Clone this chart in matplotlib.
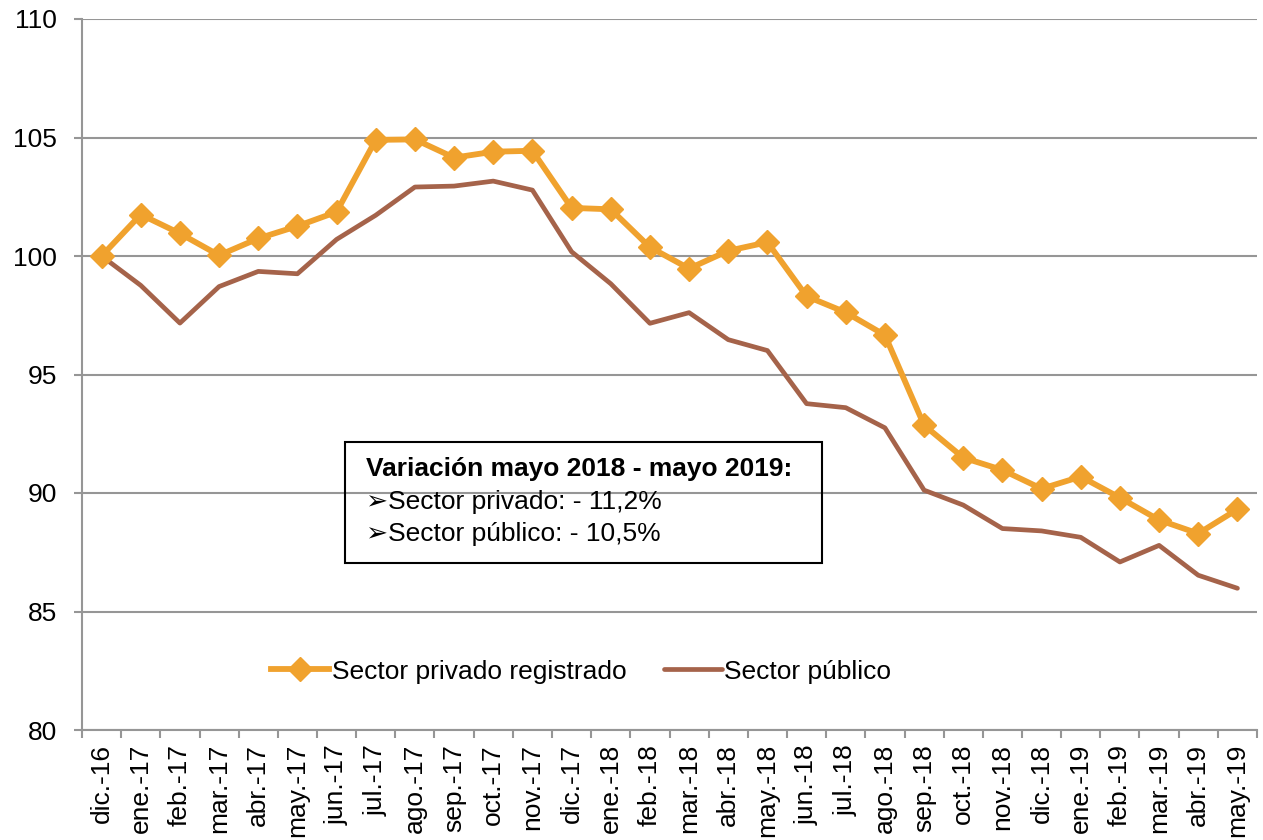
import matplotlib
matplotlib.use("Agg")
import matplotlib.pyplot as plt
from matplotlib.patches import Rectangle

plt.rcParams['font.family'] = ['Liberation Sans', 'DejaVu Sans']

meses = ['dic.-16', 'ene.-17', 'feb.-17', 'mar.-17', 'abr.-17', 'may.-17', 'jun.-17',
         'jul.-17', 'ago.-17', 'sep.-17', 'oct.-17', 'nov.-17', 'dic.-17', 'ene.-18',
         'feb.-18', 'mar.-18', 'abr.-18', 'may.-18', 'jun.-18', 'jul.-18', 'ago.-18',
         'sep.-18', 'oct.-18', 'nov.-18', 'dic.-18', 'ene.-19', 'feb.-19', 'mar.-19',
         'abr.-19', 'may.-19']

privado = [100.0, 101.75, 100.95, 100.03, 100.74, 101.26, 101.86, 104.9, 104.92, 104.15,
           104.4, 104.44, 102.03, 101.97, 100.37, 99.47, 100.22, 100.58, 98.3, 97.62,
           96.66, 92.86, 91.49, 90.97, 90.18, 90.69, 89.8, 88.86, 88.29, 89.31]

publico = [100.0, 98.76, 97.17, 98.71, 99.35, 99.25, 100.7, 101.72, 102.91, 102.95,
           103.16, 102.78, 100.18, 98.83, 97.16, 97.61, 96.47, 96.01, 93.77, 93.6,
           92.75, 90.12, 89.49, 88.5, 88.4, 88.13, 87.09, 87.79, 86.53, 85.98]

c_priv = '#F0A22E'
c_pub = '#A5634A'
gris = '#969696'
fs = 19

fig = plt.figure(figsize=(12.63, 8.4), dpi=100)
ax = fig.add_axes([82 / 1263, 110 / 840, 1175 / 1263, 711 / 840])

x = range(len(meses))
ax.plot(x, privado, color=c_priv, lw=4.2, marker='D', ms=12, mec=c_priv,
        label='Sector privado registrado', zorder=4)
ax.plot(x, publico, color=c_pub, lw=3.4, solid_capstyle='round',
        label='Sector público', zorder=3)

ax.set_xlim(-0.5, len(meses) - 0.5)
ax.set_ylim(80, 110)
ax.set_yticks(range(80, 111, 5))
ax.yaxis.grid(True, color=gris, lw=1.5)
ax.set_axisbelow(True)

ax.set_xticks(x)
ax.set_xticklabels(meses, rotation=90, fontsize=fs)
ax.set_xticks([i - 0.5 for i in range(len(meses) + 1)], minor=True)
ax.tick_params(axis='x', which='major', length=0, pad=10)
ax.tick_params(axis='x', which='minor', length=6, width=1.5, color=gris)
ax.tick_params(axis='y', length=6, width=1.5, color=gris, labelsize=fs, pad=12)

for s in ['top', 'right']:
    ax.spines[s].set_visible(False)
for s in ['left', 'bottom']:
    ax.spines[s].set_color(gris)
    ax.spines[s].set_linewidth(1.5)

leg = ax.legend(loc='center', bbox_to_anchor=(0.425, 0.082), ncol=2, frameon=False,
                fontsize=fs, handlelength=2.2, handletextpad=0.1, columnspacing=1.4)

# caja de texto
W, H = 1263, 840
fig.patches.append(Rectangle((345 / W, 1 - 563 / H), 477 / W, 121 / H,
                             transform=fig.transFigure, fill=False,
                             edgecolor='black', lw=1.5, zorder=5))
fig.text(366 / W, 1 - 469 / H, 'Variación mayo 2018 - mayo 2019:', fontsize=fs,
         fontweight='bold', va='center')
fig.text(366 / W, 1 - 502 / H, '➢Sector privado: - 11,2%', fontsize=fs, va='center')
fig.text(366 / W, 1 - 534 / H, '➢Sector público: - 10,5%', fontsize=fs, va='center')

fig.savefig('out.png', dpi=100)
